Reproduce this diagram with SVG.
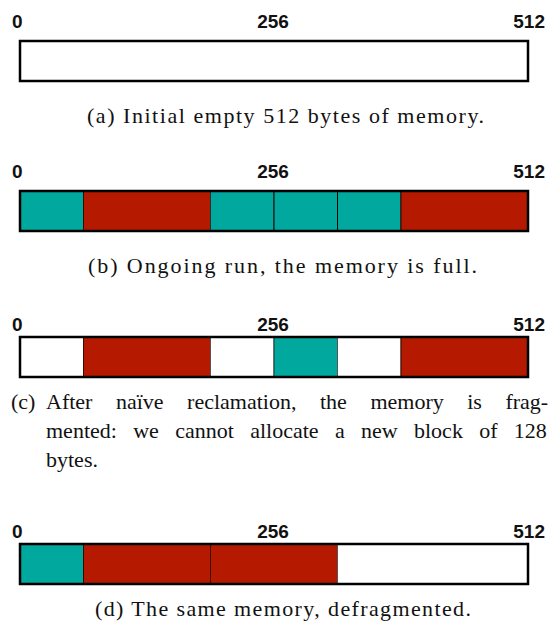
<svg xmlns="http://www.w3.org/2000/svg" width="559" height="628" viewBox="0 0 559 628">
<style>
.num{font-family:"Liberation Sans",Arial,sans-serif;font-size:19px;font-weight:bold;fill:#111}
.cap{font-family:"Liberation Serif","Times New Roman",serif;font-size:22px;fill:#111}
.t{fill:#01a89e;stroke:#1a3a38;stroke-width:1}
.r{fill:#b51a00;stroke:#3a0a00;stroke-width:1}
.w{fill:#ffffff;stroke:#555;stroke-width:1}
.frame{fill:none;stroke:#000;stroke-width:2.5}
</style>
<rect width="559" height="628" fill="#fff"/>
<g id="panel-a">
<text class="num" x="12" y="28">0</text>
<text class="num" x="273" y="28" text-anchor="middle">256</text>
<text class="num" x="545" y="28" text-anchor="end">512</text>
<rect class="w" x="20" y="41" width="508" height="40"/>
<rect class="frame" x="20" y="41" width="508" height="40"/>
<text class="cap" x="87" y="123" textLength="397" lengthAdjust="spacing">(a) Initial empty 512 bytes of memory.</text>
</g>
<g id="panel-b">
<text class="num" x="12" y="178">0</text>
<text class="num" x="273" y="178" text-anchor="middle">256</text>
<text class="num" x="545" y="178" text-anchor="end">512</text>
<rect class="t" x="20" y="191" width="63.5" height="40"/>
<rect class="r" x="83.5" y="191" width="127" height="40"/>
<rect class="t" x="210.5" y="191" width="63.5" height="40"/>
<rect class="t" x="274" y="191" width="63.5" height="40" style="stroke:#000"/>
<rect class="t" x="337.5" y="191" width="63.5" height="40" style="stroke:#000"/>
<rect class="r" x="401" y="191" width="127" height="40"/>
<rect class="frame" x="20" y="191" width="508" height="40"/>
<text class="cap" x="88" y="273" textLength="389" lengthAdjust="spacing">(b) Ongoing run, the memory is full.</text>
</g>
<g id="panel-c">
<text class="num" x="12" y="331">0</text>
<text class="num" x="273" y="331" text-anchor="middle">256</text>
<text class="num" x="545" y="331" text-anchor="end">512</text>
<rect class="w" x="20" y="337" width="63.5" height="40"/>
<rect class="r" x="83.5" y="337" width="127" height="40"/>
<rect class="w" x="210.5" y="337" width="63.5" height="40"/>
<rect class="t" x="274" y="337" width="63.5" height="40"/>
<rect class="w" x="337.5" y="337" width="63.5" height="40"/>
<rect class="r" x="401" y="337" width="127" height="40"/>
<rect class="frame" x="20" y="337" width="508" height="40"/>
<text class="cap" y="409"><tspan x="11">(c)</tspan><tspan x="46">After</tspan><tspan x="115.9">naïve</tspan><tspan x="187.1">reclamation,</tspan><tspan x="320">the</tspan><tspan x="370.4">memory</tspan><tspan x="467.2">is</tspan><tspan x="505.4">frag-</tspan></text>
<text class="cap" y="438"><tspan x="46">mented:</tspan><tspan x="133.2">we</tspan><tspan x="175.2">cannot</tspan><tspan x="250.2">allocate</tspan><tspan x="334.9">a</tspan><tspan x="361">new</tspan><tspan x="414">block</tspan><tspan x="479.2">of</tspan><tspan x="513.8">128</tspan></text>
<text class="cap" x="46" y="467">bytes.</text>
</g>
<g id="panel-d">
<text class="num" x="12" y="538">0</text>
<text class="num" x="273" y="538" text-anchor="middle">256</text>
<text class="num" x="545" y="538" text-anchor="end">512</text>
<rect class="t" x="20" y="544" width="63.5" height="40"/>
<rect class="r" x="83.5" y="544" width="127" height="40"/>
<rect class="r" x="210.5" y="544" width="127" height="40"/>
<rect class="w" x="337.5" y="544" width="190.5" height="40"/>
<rect class="frame" x="20" y="544" width="508" height="40"/>
<text class="cap" x="95" y="616" textLength="376" lengthAdjust="spacing">(d) The same memory, defragmented.</text>
</g>
</svg>
